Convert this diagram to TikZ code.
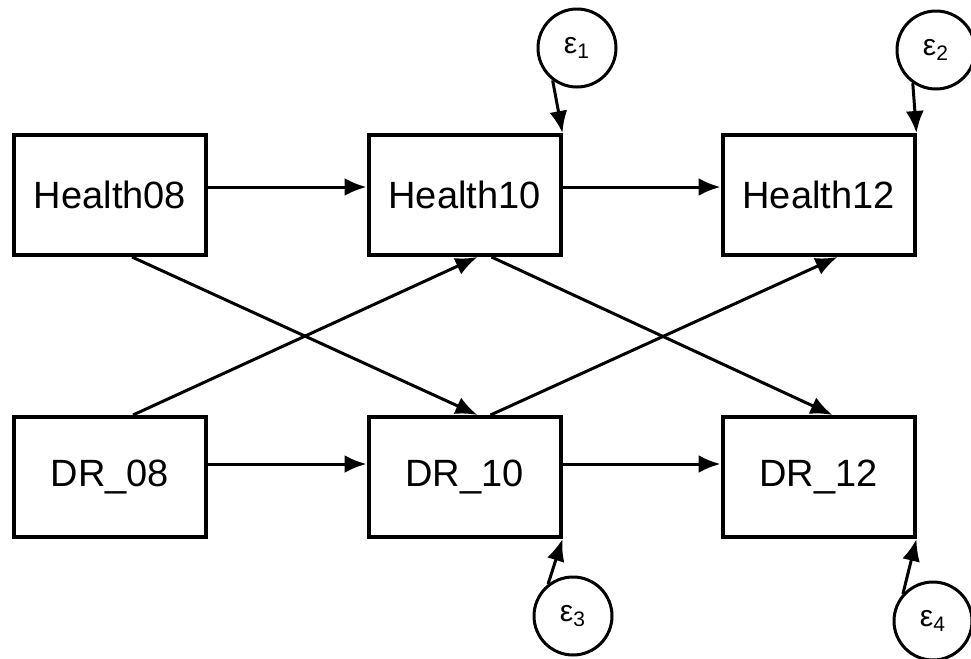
\documentclass[tikz,border=0pt]{standalone}
\usepackage{fontspec}
\setmainfont{Liberation Sans}
\usetikzlibrary{arrows.meta}

\tikzset{
    var/.style = {draw, line width=2pt, minimum width=96pt, minimum height=60pt,
                  inner sep=0pt, font=\fontsize{19}{23}\selectfont},
    err/.style = {draw, circle, line width=1.5pt, minimum size=39pt, inner sep=0pt,
                  font=\fontsize{15}{17}\selectfont},
    path/.style = {line width=1.5pt, -{Latex[length=11pt, width=9pt]}}
}

\begin{document}
\begin{tikzpicture}[x=0.5pt, y=-0.5pt]
    \pgfmathsetmacro{\colA}{110}    % units of pixels
    \pgfmathsetmacro{\colB}{464.5}
    \pgfmathsetmacro{\colC}{818.5}
    \pgfmathsetmacro{\rowH}{195}
    \pgfmathsetmacro{\rowD}{477}
    \useasboundingbox (0,0) rectangle (971,659);
    % observed variables
    \node[var] (h08) at (\colA,\rowH) {Health08};
    \node[var] (h10) at (\colB,\rowH) {Health10};
    \node[var] (h12) at (\colC,\rowH) {Health12};
    \node[var] (d08) at (\colA,\rowD) {DR\_08};
    \node[var] (d10) at (\colB,\rowD) {DR\_10};
    \node[var] (d12) at (\colC,\rowD) {DR\_12};
    % error terms
    \node[err] (e1) at (577,48) {ε\textsubscript{1}};
    \node[err] (e2) at (936,50) {ε\textsubscript{2}};
    \node[err] (e3) at (573,616) {ε\textsubscript{3}};
    \node[err] (e4) at (933,621) {ε\textsubscript{4}};
    % stability paths
    \draw[path] ([yshift=4pt]h08.east) -- ([yshift=4pt]h10.west);
    \draw[path] ([yshift=4pt]h10.east) -- ([yshift=4pt]h12.west);
    \draw[path] ([yshift=6.5pt]d08.east) -- ([yshift=6.5pt]d10.west);
    \draw[path] ([yshift=6.5pt]d10.east) -- ([yshift=6.5pt]d12.west);
    % cross-lagged paths
    \draw[path] ([xshift=11pt]h08.south) -- ([xshift=6.5pt]d10.north);
    \draw[path] ([xshift=11.5pt]d08.north) -- ([xshift=6.5pt]h10.south);
    \draw[path] ([xshift=13.5pt]h10.south) -- ([xshift=7pt]d12.north);
    \draw[path] ([xshift=13pt]d10.north) -- ([xshift=9.5pt]h12.south);
    % residuals
    \draw[path] (e1.233) -- (h10.north east);
    \draw[path] (e2.235) -- (h12.north east);
    \draw[path] (e3.128) -- (d10.south east);
    \draw[path] (e4.138) -- (d12.south east);
\end{tikzpicture}
\end{document}
